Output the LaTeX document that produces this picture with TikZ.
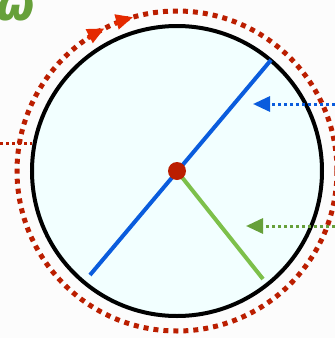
\documentclass[tikz,border=0pt]{standalone}
\usepackage{fontspec}
\setmainfont{DejaVu Sans}
\usetikzlibrary{arrows.meta}
\definecolor{bg}{HTML}{FCFCFC}
\definecolor{fillc}{HTML}{F2FFFF}
\definecolor{dred}{HTML}{BB1E00}
\definecolor{bred}{HTML}{E52A00}
\definecolor{bluec}{HTML}{0A5CDD}
\definecolor{greenl}{HTML}{7DC04A}
\definecolor{greena}{HTML}{66A03A}
\tikzset{
  rimdots/.style={draw=dred, line width=5pt, dash pattern=on 5pt off 5pt},
  smalldots/.style={line width=3pt, dash pattern=on 3pt off 3pt},
  tipblue/.style={-{Triangle[length=17pt,width=15pt]}},
  tipred/.style={-{Triangle[length=17pt,width=15pt]}},
}
\begin{document}
\begin{tikzpicture}[x=1pt,y=-1pt]
\fill[bg] (0,0) rectangle (335,338);
\useasboundingbox (0,0) rectangle (335,338);
\coordinate (O) at (177,171);
% label (clipped at the top edge)
\node[text=greena, font=\bfseries\itshape\fontsize{44}{44}\selectfont, anchor=south west, inner sep=0pt] (lbl) at (-4,21) {ω};
% rim
\draw[rimdots] (O) circle[radius=160];
\draw[bred, line width=3pt, tipred] ([shift={(-124:160)}]O) arc[start angle=-124, end angle=-117, radius=160];
\draw[bred, line width=3pt, tipred] ([shift={(-113:160)}]O) arc[start angle=-113, end angle=-106, radius=160];
% disc
\draw[fill=fillc, line width=4pt] (O) circle[radius=145];
% lines
\coordinate (B1) at (90,275);
\coordinate (B2) at (271,60);
\coordinate (G) at (263,279);
\draw[bluec, line width=4pt] (B1) -- (B2);
\draw[greenl, line width=4pt] (O) -- (G);
\fill[dred] (O) circle[radius=9];
% dotted arrows
\coordinate (ba0) at (335,104);
\coordinate (ba1) at (253,104);
\coordinate (ga0) at (335,226);
\coordinate (ga1) at (246,226);
\coordinate (ra0) at (0,143);
\coordinate (ra1) at (32,143);
\draw[bluec, smalldots, tipblue] (ba0) -- (ba1);
\draw[greena, smalldots, tipblue] (ga0) -- (ga1);
\draw[dred, smalldots] (ra0) -- (ra1);
\end{tikzpicture}
\end{document}
